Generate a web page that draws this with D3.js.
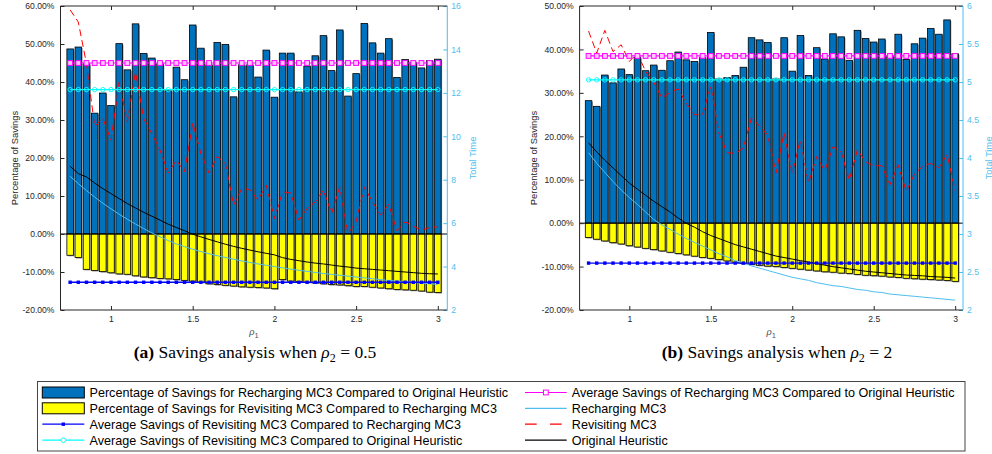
<!DOCTYPE html>
<html><head><meta charset="utf-8">
<script src="https://cdn.jsdelivr.net/npm/d3@7"></script>
<style>
html,body{margin:0;padding:0;background:#fff;}
svg{display:block;}
text{font-family:"Liberation Sans",Arial,sans-serif;}
</style></head><body>
<svg id="chart" width="992" height="454"></svg>
<script>
// ---------- data ----------
const rho1 = [0.75,0.80,0.85,0.90,0.95,1.00,1.05,1.10,1.15,1.20,1.25,1.30,1.35,1.40,1.45,1.50,1.55,1.60,1.65,1.70,1.75,1.80,1.85,1.90,1.95,2.00,2.05,2.10,2.15,2.20,2.25,2.30,2.35,2.40,2.45,2.50,2.55,2.60,2.65,2.70,2.75,2.80,2.85,2.90,2.95,3.00];

// (a) rho2 = 0.5
const savRechA = [48.7,49.2,44.8,31.8,37.1,33.8,50.1,43.2,55.3,47.5,46.3,44.8,37.7,43.9,40.6,55.0,48.9,44.5,50.4,49.9,36.1,44.5,44.5,41.3,48.4,36.0,47.6,47.6,37.4,44.2,46.9,52.2,43.0,53.7,36.3,42.2,55.4,50.3,47.6,51.4,41.2,45.9,45.2,43.7,45.6,46.0];
const savRevA = [-5.6,-6.2,-9.3,-9.6,-9.9,-10.2,-10.5,-10.6,-11.0,-11.3,-11.5,-11.7,-11.8,-12.0,-12.2,-12.4,-12.7,-13.1,-13.3,-13.5,-13.7,-13.9,-14.0,-14.1,-14.2,-14.4,-12.0,-12.4,-12.5,-12.7,-12.9,-13.1,-13.3,-13.4,-13.6,-13.8,-13.8,-14.0,-14.2,-14.4,-14.6,-14.7,-14.8,-15.0,-15.3,-15.4];
const avgRevVsRechA = -12.7;
const avgRevVsOrigA = 38.0;
const avgRechVsOrigA = 45.0;
const timeRechA = [8.16,7.82,7.50,7.20,6.92,6.66,6.41,6.18,5.96,5.75,5.55,5.37,5.20,5.04,4.92,4.80,4.69,4.59,4.50,4.42,4.34,4.26,4.19,4.12,4.06,4.00,3.94,3.88,3.83,3.78,3.73,3.68,3.64,3.60,3.56,3.52,3.48,3.44,3.40,3.36,3.33,3.30,3.27,3.24,3.21,3.18];
const timeRevA = [15.82,15.26,13.34,10.46,10.83,9.82,12.50,10.66,12.96,10.81,10.12,9.36,8.31,8.90,8.36,10.61,9.20,8.31,9.08,8.74,6.83,7.59,7.55,7.06,7.75,6.21,7.44,7.39,6.14,6.67,6.98,7.52,6.44,7.67,5.52,6.06,7.67,6.98,6.37,6.87,5.65,6.06,5.86,5.68,5.79,5.83];
const timeOrigA = [8.62,8.28,8.13,7.85,7.59,7.36,7.13,6.90,6.70,6.50,6.32,6.14,5.95,5.80,5.65,5.49,5.37,5.25,5.14,5.03,4.93,4.84,4.76,4.68,4.61,4.54,4.41,4.33,4.27,4.21,4.16,4.12,4.07,4.02,3.98,3.93,3.90,3.87,3.84,3.81,3.78,3.75,3.72,3.69,3.67,3.66];

// (b) rho2 = 2
const savRechB = [28.2,26.9,34.1,32.3,35.5,34.2,38.2,35.1,36.4,35.2,37.4,39.4,37.6,37.2,38.1,43.9,33.2,33.5,34.0,35.9,42.7,42.2,41.6,33.2,42.7,35.0,43.2,34.0,40.4,37.8,43.6,42.9,37.5,44.4,42.5,41.7,42.4,38.5,43.5,37.7,41.3,42.6,44.8,43.5,46.8,39.0];
const savRevB = [-3.3,-3.7,-4.1,-4.5,-4.8,-5.2,-5.5,-5.8,-6.1,-6.4,-6.7,-7.0,-7.3,-7.6,-7.9,-8.1,-8.4,-8.7,-9.0,-9.3,-9.5,-9.7,-9.9,-10.0,-10.2,-10.4,-10.6,-10.8,-11.0,-11.2,-11.3,-11.5,-11.6,-11.8,-12.0,-12.1,-12.2,-12.4,-12.5,-12.7,-12.8,-12.9,-13.0,-13.1,-13.2,-13.4];
const avgRevVsRechB = -9.2;
const avgRevVsOrigB = 33.0;
const avgRechVsOrigB = 38.5;
const timeRechB = [4.07,3.93,3.81,3.69,3.58,3.48,3.39,3.29,3.19,3.12,3.06,3.00,2.94,2.89,2.84,2.79,2.74,2.70,2.65,2.62,2.58,2.55,2.52,2.49,2.46,2.43,2.41,2.39,2.36,2.34,2.32,2.31,2.29,2.27,2.26,2.24,2.23,2.21,2.20,2.19,2.18,2.17,2.16,2.15,2.14,2.13];
const timeRevB = [5.67,5.38,5.68,5.40,5.49,5.27,5.38,5.14,5.00,4.79,4.86,4.91,4.72,4.57,4.57,4.95,4.33,4.07,4.06,4.13,4.53,4.42,4.30,3.80,4.33,3.80,4.24,3.67,4.02,3.83,4.15,4.08,3.71,4.11,3.95,3.90,3.90,3.65,3.91,3.56,3.79,3.89,3.93,3.87,4.05,3.57];
const timeOrigB = [4.20,4.08,3.97,3.87,3.77,3.67,3.59,3.51,3.43,3.36,3.29,3.21,3.14,3.09,3.03,2.98,2.94,2.90,2.86,2.83,2.80,2.77,2.74,2.71,2.69,2.67,2.65,2.63,2.61,2.59,2.57,2.555,2.54,2.525,2.51,2.50,2.49,2.48,2.47,2.46,2.455,2.45,2.44,2.435,2.43,2.42];

// ticks
const xTicks = [1,1.5,2,2.5,3];
const yTicksLA = [-20,-10,0,10,20,30,40,50,60];
const yTicksRA = [2,4,6,8,10,12,14,16];
const yTicksLB = [-20,-10,0,10,20,30,40,50];
const yTicksRB = [2,2.5,3,3.5,4,4.5,5,5.5,6];

const legendNames = [
  'Percentage of Savings for Recharging MC3 Compared to Original Heuristic',
  'Percentage of Savings for Revisiting MC3 Compared to Recharging MC3',
  'Average Savings of Revisiting MC3 Compared to Recharging MC3',
  'Average Savings of Revisiting MC3 Compared to Original Heuristic',
  'Average Savings of Recharging MC3 Compared to Original Heuristic',
  'Recharging MC3',
  'Revisiting MC3',
  'Original Heuristic'
];

// ---------- style ----------
const BLUE = '#0072BD', YELLOW = '#FFFF00', LBLUE = '#4DBEEE', AXC = '#262626';
const MAG = '#FF00FF', CYAN = '#00FFFF', DBLUE = '#0000FF', RED = '#FF0000';

const svg = d3.select('#chart');
svg.append('rect').attr('width',992).attr('height',454).attr('fill','#fff');

function panel(c) {
  const g = svg.append('g');
  const x = d3.scaleLinear().domain(c.xDomain).range([c.left, c.right]);
  const yL = d3.scaleLinear().domain(c.yLDomain).range([c.bottom, c.top]);
  const yR = d3.scaleLinear().domain(c.yRDomain).range([c.bottom, c.top]);
  const step = x(rho1[1]) - x(rho1[0]);
  const bw = step * 0.8;
  const bars = c.pos.map((v,i)=>({x:rho1[i], v, col:BLUE}))
     .concat(c.neg.map((v,i)=>({x:rho1[i], v, col:YELLOW})));
  g.selectAll('rect.sh').data(bars).join('rect').attr('class','sh')
    .attr('x', d => x(d.x) - bw/2 + 1)
    .attr('y', d => Math.min(yL(d.v), yL(0)) + 1)
    .attr('width', bw).attr('height', d => Math.abs(yL(d.v) - yL(0)))
    .attr('fill', '#8a8a8a');
  g.selectAll('rect.bar').data(bars).join('rect').attr('class','bar')
    .attr('x', d => x(d.x) - bw/2)
    .attr('y', d => Math.min(yL(d.v), yL(0)))
    .attr('width', bw).attr('height', d => Math.abs(yL(d.v) - yL(0)))
    .attr('fill', d => d.col).attr('stroke', '#000').attr('stroke-width', 0.8);
  // baseline
  g.append('line').attr('x1', c.left).attr('x2', c.right)
    .attr('y1', yL(0)).attr('y2', yL(0)).attr('stroke', '#000').attr('stroke-width', 1);

  // axes
  const fs = '8.6px';
  const ax = g.append('g').attr('transform', `translate(${c.left},0)`)
    .call(d3.axisLeft(yL).tickValues(c.yLTicks).tickSize(-4).tickPadding(6).tickFormat(v => v.toFixed(2) + '%'));
  const axR = g.append('g').attr('transform', `translate(${c.right},0)`)
    .call(d3.axisRight(yR).tickValues(c.yRTicks).tickSize(-4).tickPadding(4).tickFormat(v => String(v)));
  const axB = g.append('g').attr('transform', `translate(0,${c.bottom})`)
    .call(d3.axisBottom(x).tickValues(xTicks).tickSize(-4).tickPadding(6).tickFormat(v => String(v)));
  const axT = g.append('g').attr('transform', `translate(0,${c.top})`)
    .call(d3.axisTop(x).tickValues(xTicks).tickSize(-4).tickFormat(''));
  [ax, axB, axT].forEach(a => a.attr('color', AXC));
  axR.attr('color', LBLUE);
  [ax, axR, axB, axT].forEach(a => {
    a.select('.domain').remove();
    a.attr('font-family', '"Liberation Sans",Arial,sans-serif').attr('font-size', fs);
  });
  // frame
  g.append('line').attr('x1', c.left).attr('x2', c.right).attr('y1', c.top).attr('y2', c.top).attr('stroke', AXC);
  g.append('line').attr('x1', c.left).attr('x2', c.right).attr('y1', c.bottom).attr('y2', c.bottom).attr('stroke', AXC);
  g.append('line').attr('x1', c.left).attr('x2', c.left).attr('y1', c.top).attr('y2', c.bottom).attr('stroke', AXC);
  g.append('line').attr('x1', c.right).attr('x2', c.right).attr('y1', c.top).attr('y2', c.bottom).attr('stroke', LBLUE);

  // time lines (right axis)
  const lineR = d3.line().x((d,i) => x(rho1[i])).y(d => yR(d));
  g.append('path').attr('d', lineR(c.tOrig)).attr('fill','none').attr('stroke','#000').attr('stroke-width',1);
  g.append('path').attr('d', lineR(c.tRech)).attr('fill','none').attr('stroke',LBLUE).attr('stroke-width',1);
  g.append('path').attr('d', lineR(c.tRev)).attr('fill','none').attr('stroke',RED).attr('stroke-width',1)
    .attr('stroke-dasharray','7,4');

  // average lines (left axis)
  const flat = v => rho1.map(() => v);
  const lineL = d3.line().x((d,i) => x(rho1[i])).y(d => yL(d));
  // magenta squares
  g.append('path').attr('d', lineL(flat(c.aRech))).attr('fill','none').attr('stroke',MAG).attr('stroke-width',1.2);
  g.selectAll('rect.mk').data(rho1).join('rect').attr('class','mk')
    .attr('x', d => x(d) - 2.4).attr('y', yL(c.aRech) - 2.4).attr('width', 4.8).attr('height', 4.8)
    .attr('fill','#ffc8ff').attr('stroke',MAG).attr('stroke-width',1);
  // cyan circles
  g.append('path').attr('d', lineL(flat(c.aRevOrig))).attr('fill','none').attr('stroke',CYAN).attr('stroke-width',1.2);
  g.selectAll('circle.mk').data(rho1).join('circle').attr('class','mk')
    .attr('cx', d => x(d)).attr('cy', yL(c.aRevOrig)).attr('r', 2.2)
    .attr('fill','none').attr('stroke',CYAN).attr('stroke-width',0.9);
  // blue dots
  g.append('path').attr('d', lineL(flat(c.aRevRech))).attr('fill','none').attr('stroke',DBLUE).attr('stroke-width',1.3);
  g.selectAll('rect.dk').data(rho1).join('rect').attr('class','dk')
    .attr('x', d => x(d) - 1.7).attr('y', yL(c.aRevRech) - 1.7).attr('width', 3.4).attr('height', 3.4)
    .attr('fill',DBLUE);

  // axis labels
  g.append('text').attr('transform', `translate(${c.left - 42.5},${(c.top + c.bottom)/2}) rotate(-90)`)
    .attr('text-anchor','middle').attr('font-size','9.4px').attr('fill',AXC).text('Percentage of Savings');
  g.append('text').attr('transform', `translate(${c.right + 28.5},${(c.top + c.bottom)/2}) rotate(-90)`)
    .attr('text-anchor','middle').attr('font-size','9.4px').attr('fill',LBLUE).text('Total Time');
  const xl = g.append('text').attr('x', (c.left + c.right)/2).attr('y', 335)
    .attr('text-anchor','middle').attr('font-size','11px').attr('fill','#555');
  xl.append('tspan').attr('font-style','italic').style('font-family','"Liberation Serif",serif').text('ρ');
  xl.append('tspan').attr('font-size','7.5px').attr('dy', 2.5).text('1');

  // caption
  const t = svg.append('text').attr('x', c.capX).attr('y', 358).attr('text-anchor','middle')
    .style('font-family','"Liberation Serif",serif').attr('font-size','17.5px').attr('fill','#000');
  t.append('tspan').attr('font-weight','bold').text(c.capLabel);
  t.append('tspan').text(' Savings analysis when ');
  t.append('tspan').attr('font-style','italic').text('ρ');
  t.append('tspan').attr('font-size','12px').attr('dy', 4).text('2');
  t.append('tspan').attr('dy', -4).text(' = ' + c.capVal);
}

panel({left:60.5, right:447.3, top:6, bottom:310, xDomain:[0.691,3.058],
  yLDomain:[-20,60], yRDomain:[2,16], yLTicks:yTicksLA, yRTicks:yTicksRA,
  pos:savRechA, neg:savRevA, aRech:avgRechVsOrigA, aRevOrig:avgRevVsOrigA, aRevRech:avgRevVsRechA,
  tOrig:timeOrigA, tRech:timeRechA, tRev:timeRevA, capX:255, capLabel:'(a)', capVal:'0.5'});
panel({left:579.6, right:963, top:6, bottom:310, xDomain:[0.695,3.048],
  yLDomain:[-20,50], yRDomain:[2,6], yLTicks:yTicksLB, yRTicks:yTicksRB,
  pos:savRechB, neg:savRevB, aRech:avgRechVsOrigB, aRevOrig:avgRevVsOrigB, aRevRech:avgRevVsRechB,
  tOrig:timeOrigB, tRech:timeRechB, tRev:timeRevB, capX:777, capLabel:'(b)', capVal:'2'});

// ---------- legend ----------
const lg = svg.append('g');
lg.append('rect').attr('x',37.5).attr('y',381.5).attr('width',927.5).attr('height',69.5)
  .attr('fill','#fff').attr('stroke','#444').attr('stroke-width',1);
const rowsY = [392.5, 408.3, 424.2, 440.2];
const items = [
  {col:0,row:0,kind:'patch',color:BLUE},
  {col:0,row:1,kind:'patch',color:YELLOW},
  {col:0,row:2,kind:'dot',color:DBLUE},
  {col:0,row:3,kind:'circle',color:CYAN},
  {col:1,row:0,kind:'square',color:MAG},
  {col:1,row:1,kind:'line',color:LBLUE},
  {col:1,row:2,kind:'dash',color:RED},
  {col:1,row:3,kind:'line',color:'#000'}
];
const colX = [{s:42.3,e:84.3,t:89.5},{s:525,e:566.7,t:571.8}];
items.forEach((it, k) => {
  const cx = colX[it.col], y = rowsY[it.row], mid = (cx.s + cx.e)/2;
  if (it.kind === 'patch') {
    lg.append('rect').attr('x',cx.s).attr('y',y-5.5).attr('width',cx.e-cx.s).attr('height',11)
      .attr('fill',it.color).attr('stroke','#000').attr('stroke-width',1);
  } else {
    const ln = lg.append('line').attr('x1',cx.s).attr('x2',cx.e).attr('y1',y).attr('y2',y)
      .attr('stroke',it.color).attr('stroke-width',1.2);
    if (it.kind === 'dash') ln.attr('stroke-dasharray','11.7,13.3');
    if (it.kind === 'dot') lg.append('rect').attr('x',mid-1.7).attr('y',y-1.7).attr('width',3.4).attr('height',3.4).attr('fill',it.color);
    if (it.kind === 'circle') lg.append('circle').attr('cx',mid).attr('cy',y).attr('r',2.3).attr('fill','#fff').attr('stroke',it.color).attr('stroke-width',0.9);
    if (it.kind === 'square') lg.append('rect').attr('x',mid-2.4).attr('y',y-2.4).attr('width',4.8).attr('height',4.8).attr('fill','#fff').attr('stroke',it.color).attr('stroke-width',1);
  }
  lg.append('text').attr('x',cx.t).attr('y',y).attr('dy','0.36em').attr('font-size','12.6px')
    .attr('fill','#000').text(legendNames[k]);
});
</script>
</body></html>
